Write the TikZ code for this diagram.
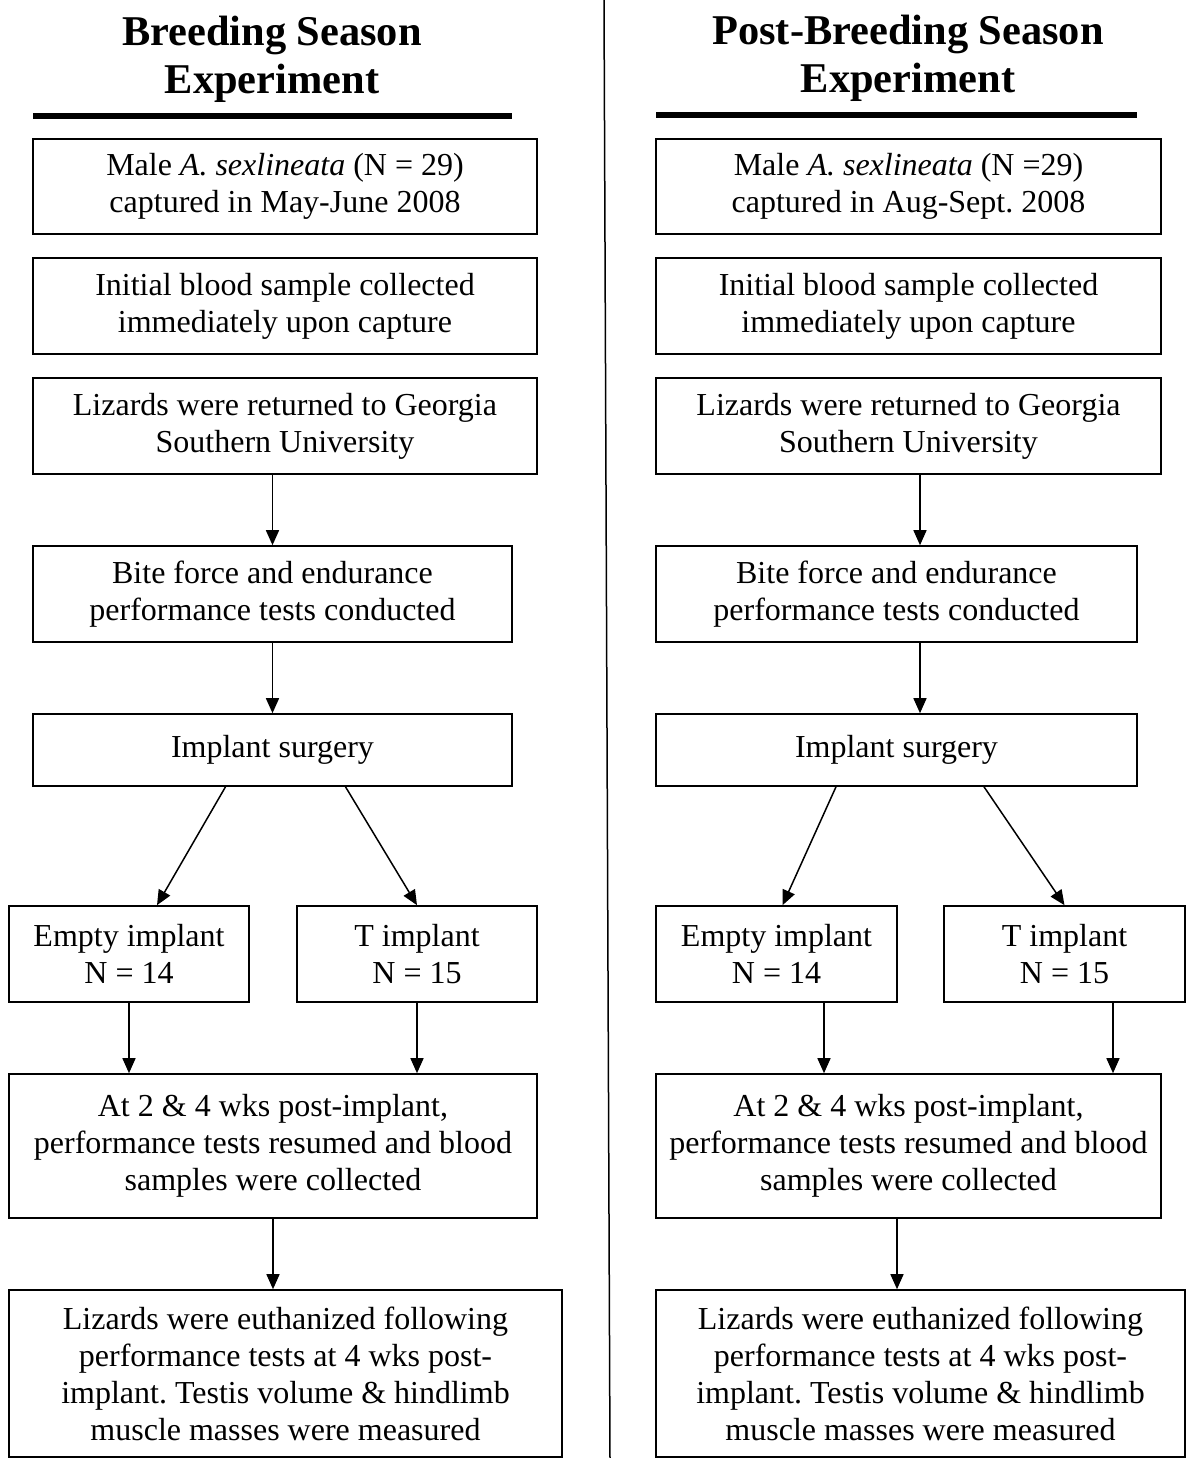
\documentclass[tikz,border=0pt]{standalone}
\usepackage{fontspec}
\setmainfont{Liberation Serif}
\usetikzlibrary{arrows.meta,calc}
\frenchspacing
\begin{document}
\begin{tikzpicture}[x=0.5pt,y=-0.5pt,
  box/.style={draw, line width=0.8pt, inner sep=0pt, align=center,
              font=\fontsize{16}{18.5}\selectfont},
  arr/.style={line width=0.75pt, -{Triangle[length=7.5pt,width=6.5pt]}},
  ttl/.style={align=center, font=\fontsize{21.2}{24}\selectfont\bfseries},
  rulebar/.style={line width=3pt},
  divider/.style={line width=0.75pt}]
\useasboundingbox (0,0) rectangle (1186,1458);

% divider
\coordinate (dtop) at (604,0);
\coordinate (dbot) at (610,1458);
\draw[divider] (dtop) -- (dbot);

% ---------------- Left column ----------------
\node[ttl] (LT) at (272,59) {Breeding Season\\Experiment};
\coordinate (LRa) at (33,116);
\coordinate (LRb) at (512,116);
\draw[rulebar] (LRa) -- (LRb);

\node[box, minimum width=252pt, minimum height=47.5pt] (L1) at (285,186.5) {Male \textit{A. sexlineata} (N = 29)\\captured in May-June 2008};
\node[box, minimum width=252pt, minimum height=48pt] (L2) at (285,306) {Initial blood sample collected\\immediately upon capture};
\node[box, minimum width=252pt, minimum height=48pt] (L3) at (285,426) {Lizards were returned to Georgia\\Southern University};
\node[box, minimum width=239.5pt, minimum height=48pt] (L4) at (272.5,594) {Bite force and endurance\\performance tests conducted};
\node[box, minimum width=239.5pt, minimum height=36pt] (L5) at (272.5,750) {Implant surgery};
\node[box, minimum width=120pt, minimum height=48pt] (L6) at (129,954) {Empty implant\\N = 14};
\node[box, minimum width=120pt, minimum height=48pt] (L7) at (417,954) {T implant\\N = 15};
\node[box, minimum width=264pt, minimum height=72pt] (L8) at (273,1146) {At 2 \& 4 wks post-implant,\\performance tests resumed and blood\\samples were collected};
\node[box, minimum width=276.5pt, minimum height=83.5pt] (L9) at (285.5,1373.5) {Lizards were euthanized following\\performance tests at 4 wks post-\\implant. Testis volume \& hindlimb\\muscle masses were measured};

\draw[arr] (L4.north |- L3.south) -- (L4.north);
\draw[arr] (L4.south) -- (L5.north);
\coordinate (l5a) at ($(L5.south)+(-47,0)$);
\coordinate (l6a) at ($(L6.north)+(28,0)$);
\coordinate (l5b) at ($(L5.south)+(73,0)$);
\draw[arr] (l5a) -- (l6a);
\draw[arr] (l5b) -- (L7.north);
\draw[arr] (L6.south) -- (L6.south |- L8.north);
\draw[arr] (L7.south) -- (L7.south |- L8.north);
\draw[arr] (L8.south) -- (L8.south |- L9.north);

% ---------------- Right column ----------------
\node[ttl] (RT) at (908,58) {Post-Breeding Season\\Experiment};
\coordinate (RRa) at (656,115);
\coordinate (RRb) at (1137,115);
\draw[rulebar] (RRa) -- (RRb);

\node[box, minimum width=252.5pt, minimum height=47.5pt] (R1) at (908.5,186.5) {Male \textit{A. sexlineata} (N =29)\\captured in Aug-Sept. 2008};
\node[box, minimum width=252.5pt, minimum height=48pt] (R2) at (908.5,306) {Initial blood sample collected\\immediately upon capture};
\node[box, minimum width=252.5pt, minimum height=48pt] (R3) at (908.5,426) {Lizards were returned to Georgia\\Southern University};
\node[box, minimum width=240.5pt, minimum height=48pt] (R4) at (896.5,594) {Bite force and endurance\\performance tests conducted};
\node[box, minimum width=240.5pt, minimum height=36pt] (R5) at (896.5,750) {Implant surgery};
\node[box, minimum width=120.5pt, minimum height=48pt] (R6) at (776.5,954) {Empty implant\\N = 14};
\node[box, minimum width=120.5pt, minimum height=48pt] (R7) at (1064.5,954) {T implant\\N = 15};
\node[box, minimum width=252.5pt, minimum height=72pt] (R8) at (908.5,1146) {At 2 \& 4 wks post-implant,\\performance tests resumed and blood\\samples were collected};
\node[box, minimum width=264.5pt, minimum height=83.5pt] (R9) at (920.5,1373.5) {Lizards were euthanized following\\performance tests at 4 wks post-\\implant. Testis volume \& hindlimb\\muscle masses were measured};

\coordinate (r34) at ($(R3.south)+(11.5,0)$);
\draw[arr] (r34) -- (r34 |- R4.north);
\coordinate (r45) at ($(R4.south)+(23.5,0)$);
\draw[arr] (r45) -- (r45 |- R5.north);
\coordinate (r5a) at ($(R5.south)+(-60.5,0)$);
\coordinate (r6a) at ($(R6.north)+(6,0)$);
\coordinate (r5b) at ($(R5.south)+(87.5,0)$);
\draw[arr] (r5a) -- (r6a);
\draw[arr] (r5b) -- (R7.north);
\coordinate (r68) at ($(R6.south)+(47.5,0)$);
\draw[arr] (r68) -- (r68 |- R8.north);
\coordinate (r78) at ($(R7.south)+(48.5,0)$);
\draw[arr] (r78) -- (r78 |- R8.north);
\coordinate (r89) at ($(R8.south)+(-11.5,0)$);
\draw[arr] (r89) -- (r89 |- R9.north);
\end{tikzpicture}
\end{document}
